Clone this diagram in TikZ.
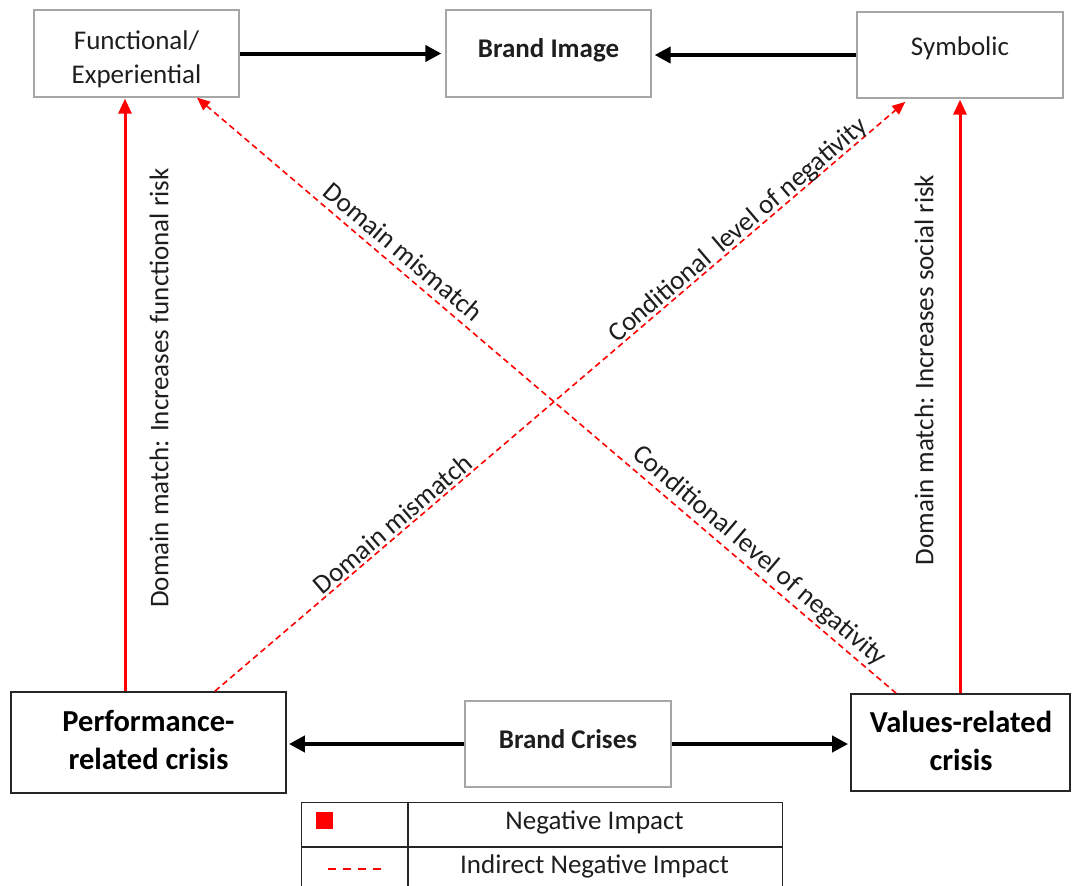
\documentclass[tikz,border=0pt]{standalone}
\usepackage{fontspec}
\setmainfont{Carlito}
\usetikzlibrary{arrows.meta,calc}
\definecolor{boxgray}{HTML}{A6A6A6}
\definecolor{inkgray}{HTML}{1E1E1E}
\begin{document}
\begin{tikzpicture}[x=1pt,y=-1pt,
  lightbox/.style={draw=boxgray,line width=1.3pt,inner sep=0pt},
  darkbox/.style={draw=black!85,line width=1.8pt,inner sep=0pt},
  txt/.style={font=\fontsize{27}{34}\selectfont,inner sep=0pt,text=inkgray},
  btxt/.style={font=\fontsize{27}{34}\selectfont\bfseries,inner sep=0pt,text=inkgray},
  crisis/.style={font=\fontsize{30.5}{38}\selectfont\bfseries,inner sep=0pt,text=black,align=center},
  main/.style={line width=4pt,-{Triangle[length=16pt,width=16pt]}},
  neg/.style={red,line width=3pt,-{Triangle[length=15pt,width=13pt]}},
  ind/.style={red,line width=1.6pt,dash pattern=on 6pt off 4pt,>={Triangle[length=13pt,width=11pt]}},
  tab/.style={draw=black!85,line width=1.4pt}]
\useasboundingbox (0,0) rectangle (1072,886);
\clip (0,0) rectangle (1072,886);

% brand image dimensions
\node[lightbox,minimum width=205pt,minimum height=87pt] (func) at (136.5,53.5) {};
\node[lightbox,minimum width=205pt,minimum height=87pt] (brand) at (548.5,53.5) {};
\node[lightbox,minimum width=206pt,minimum height=86pt] (sym) at (960,55) {};
\node[txt,align=center] (funcT) at (136.5,59) {Functional/\\Experiential};
\node[btxt,anchor=base] (brandT) at (548.5,57) {Brand Image};
\node[txt,anchor=base] (symT) at (960,55) {Symbolic};

% crisis types
\node[darkbox,minimum width=275pt,minimum height=101pt] (perf) at (148.5,742.5) {};
\node[lightbox,minimum width=206pt,minimum height=86pt] (crises) at (568,744) {};
\node[darkbox,minimum width=219pt,minimum height=97pt] (vals) at (960.5,742.5) {};
\node[crisis] (perfT) at (148.5,740.5) {Performance-\\related crisis};
\node[btxt,anchor=base] (crisesT) at (568,748) {Brand Crises};
\node[crisis] (valsT) at (961,741) {Values-related\\crisis};

% horizontal links
\draw[main,shorten >=4pt] (func.east) -- (brand.west);
\draw[main,shorten >=3pt] (sym.west) -- (brand.east |- sym.west);
\draw[main,shorten >=2pt] (crises.west) -- (perf.east |- crises.west);
\draw[main,shorten >=2pt] (crises.east) -- (vals.west |- crises.east);

% direct negative impact
\coordinate (lx) at (125,0);
\draw[neg,shorten >=1pt] (perf.north -| lx) -- (func.south -| lx);
\draw[neg,shorten >=1pt] (vals.north -| sym.south) -- (sym.south);
\node[txt,rotate=90] (funcRisk) at (159,388) {Domain match: Increases functional risk};
\node[txt,rotate=90] (socRisk) at (924,370) {Domain match: Increases social risk};

% indirect negative impact
\coordinate (fx) at (197,0);
\coordinate (vx) at (896,0);
\coordinate (px) at (215,0);
\coordinate (sx) at (909,0);
\draw[ind,<-] (func.south -| fx) -- (vals.north -| vx)
  node[txt,sloped,pos=0.28,above=6.5pt] (dmA) {Domain mismatch}
  node[txt,sloped,pos=0.79,above=3pt] (clA) {Conditional level of negativity};
\draw[ind,->,shorten >=5pt] (perf.north -| px) -- (sym.south -| sx)
  node[txt,sloped,pos=0.267,above=2pt] (dmB) {Domain mismatch}
  node[txt,sloped,pos=0.764,above=-2pt] (clB) {Conditional~ level of negativity};

% legend
\node[tab,minimum width=481pt,minimum height=89pt,anchor=north west,inner sep=0pt] (leg) at (300.5,802) {};
\coordinate (cdiv) at (408,0);
\coordinate (rdiv) at (0,847);
\draw[tab] (leg.north -| cdiv) -- (leg.south -| cdiv);
\draw[tab] (leg.west |- rdiv) -- (leg.east |- rdiv);
\node[fill=red,minimum size=17pt,inner sep=0pt] (sq) at (324.5,820.5) {};
\coordinate (d1) at (328,869);
\coordinate (d2) at (382,869);
\draw[red,line width=1.5pt,dash pattern=on 8pt off 7pt] (d1) -- (d2);
\node[txt,anchor=base] (niT) at (594.5,829) {Negative Impact};
\node[txt,anchor=base] (iniT) at (594.5,873) {Indirect Negative Impact};
\end{tikzpicture}
\end{document}
